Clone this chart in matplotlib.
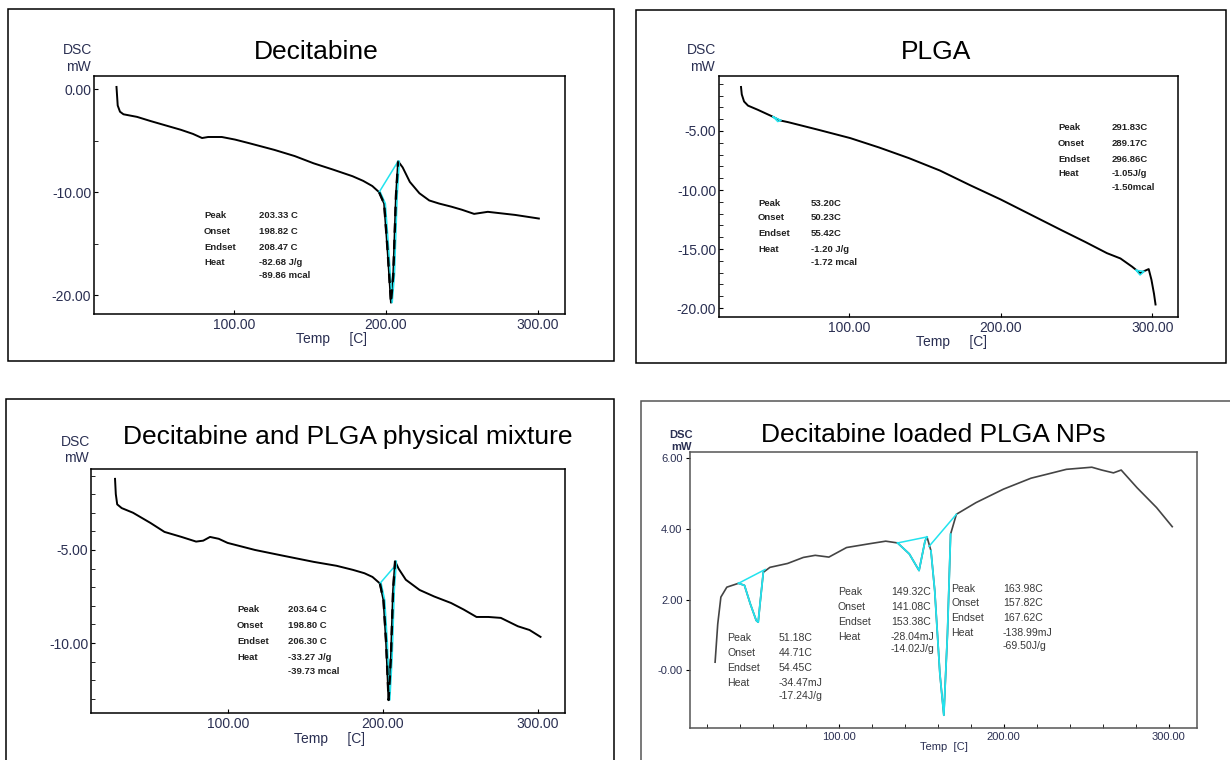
import matplotlib
matplotlib.use("Agg")
import matplotlib.pyplot as plt
from matplotlib.patches import Rectangle
from matplotlib.ticker import MultipleLocator, FixedLocator

plt.rcParams["font.family"] = ["Liberation Sans", "DejaVu Sans"]

# ---- data ----
dec_t = [22.7, 23.5, 25.0, 27.3, 36.2, 45, 54.4, 65, 73, 79, 83, 92, 100.7, 110,
         126.6, 140, 152.4, 165, 178, 185, 191, 195.5, 198.8, 201, 203.3, 204.8,
         206.6, 208, 211, 215.7, 222, 228.5, 235, 243, 250, 258, 267, 276, 285, 300.6]
dec_y = [0.2, -1.6, -2.2, -2.45, -2.7, -3.1, -3.5, -3.95, -4.35, -4.75, -4.65, -4.65,
         -4.9, -5.25, -5.9, -6.5, -7.2, -7.8, -8.45, -8.9, -9.4, -10.0, -11.1, -15.5,
         -20.7, -18.0, -10.3, -7.0, -7.6, -9.0, -10.1, -10.8, -11.1, -11.4, -11.7,
         -12.1, -11.9, -12.05, -12.2, -12.55]
dec_dip = (21, 28)
dec_base_t = [195.5, 208.0]
dec_base_y = [-10.0, -7.0]

plga_t = [29, 29.5, 31, 33.6, 40, 49.3, 54.5, 60, 80, 100.9, 120, 139.6, 160, 180,
          200, 220, 240, 255.7, 270, 278.9, 286.6, 289.5, 291.8, 294, 297.5, 299.3,
          301, 302]
plga_y = [-1.27, -1.9, -2.5, -2.85, -3.2, -3.75, -4.1, -4.25, -4.9, -5.6, -6.4,
          -7.3, -8.35, -9.6, -10.8, -12.1, -13.4, -14.4, -15.35, -15.8, -16.5,
          -16.8, -17.05, -16.9, -16.7, -17.6, -18.8, -19.7]
plga_cyan1_t = [50.2, 53.2, 55.4, 50.2]
plga_cyan1_y = [-3.8, -4.2, -4.1, -3.8]
plga_cyan2_t = [289.2, 291.8, 294.5, 289.2]
plga_cyan2_y = [-16.8, -17.2, -16.9, -16.8]

mix_t = [27.1, 27.6, 28.5, 31.4, 38.7, 50, 59, 70, 79.4, 84, 88.4, 94, 99.7, 117.4,
         135, 155.3, 170, 180.6, 188, 193.2, 198, 200.3, 202, 203.6, 205.1, 206.5,
         207.8, 210, 214.7, 223.6, 233, 243.9, 252, 260.3, 268, 276, 287, 294.5, 301.6]
mix_y = [-1.18, -2.0, -2.55, -2.75, -3.0, -3.55, -4.03, -4.3, -4.55, -4.5, -4.3,
         -4.4, -4.62, -5.0, -5.3, -5.64, -5.85, -6.07, -6.25, -6.45, -6.8, -7.7,
         -10.0, -13.06, -10.75, -7.15, -5.6, -6.0, -6.6, -7.15, -7.5, -7.85, -8.2,
         -8.6, -8.6, -8.65, -9.1, -9.3, -9.67]
mix_dip = (20, 27)
mix_base_t = [198.0, 207.3]
mix_base_y = [-6.8, -5.9]

np_t = [25.2, 26.8, 28.7, 32.3, 39.4, 43, 46.5, 50.1, 51.3, 52.4, 54.4, 58.4, 69.1,
        78.6, 85.8, 94.1, 104.8, 119, 128.5, 135.7, 142.8, 148.7, 152.3, 153.5,
        155.9, 158.2, 161.3, 163.7, 165.9, 167.8, 171.3, 183.2, 199.8, 216.5, 226,
        237.9, 253.3, 259.3, 266.4, 271.1, 280.7, 292.5, 302]
np_y = [0.23, 1.31, 2.07, 2.35, 2.46, 2.40, 1.88, 1.41, 1.36, 1.88, 2.77, 2.91,
        3.02, 3.19, 3.25, 3.2, 3.47, 3.58, 3.65, 3.6, 3.29, 2.82, 3.65, 3.77, 3.38,
        2.25, -0.09, -1.27, 1.03, 3.85, 4.41, 4.74, 5.12, 5.43, 5.54, 5.68, 5.74,
        5.66, 5.58, 5.66, 5.16, 4.6, 4.06]
np_dips = [(4, 11), (19, 24), (24, 30)]
np_base_t = [[39.4, 55.5], [135.7, 153.5], [154.7, 171.3]]
np_base_y = [[2.46, 2.85], [3.6, 3.77], [3.5, 4.41]]

x_ticks = [100, 200, 300]
x_labels = ["100.00", "200.00", "300.00"]

dec_labels = ["Peak", "Onset", "Endset", "Heat", ""]
dec_values = ["203.33 C", "198.82 C", "208.47 C", "-82.68 J/g", "-89.86 mcal"]
plga_values1 = ["53.20C", "50.23C", "55.42C", "-1.20 J/g", "-1.72 mcal"]
plga_values2 = ["291.83C", "289.17C", "296.86C", "-1.05J/g", "-1.50mcal"]
mix_values = ["203.64 C", "198.80 C", "206.30 C", "-33.27 J/g", "-39.73 mcal"]
np_values1 = ["51.18C", "44.71C", "54.45C", "-34.47mJ", "-17.24J/g"]
np_values2 = ["149.32C", "141.08C", "153.38C", "-28.04mJ", "-14.02J/g"]
np_values3 = ["163.98C", "157.82C", "167.62C", "-138.99mJ", "-69.50J/g"]

W, H = 1230, 760
fig = plt.figure(figsize=(W / 100, H / 100), dpi=100)
LAB = "#2a2f52"
CYAN = "#22e3ee"


def px_axes(l, t, r, b):
    return fig.add_axes([l / W, 1 - b / H, (r - l) / W, (b - t) / H])


def ftext(x, y, s, **kw):
    fig.text(x / W, 1 - y / H, s, **kw)


def box(l, t, r, b, color="black"):
    fig.add_artist(Rectangle((l / W, 1 - b / H), (r - l) / W, (b - t) / H,
                             transform=fig.transFigure, fill=False, lw=1.1,
                             edgecolor=color))


def table(lx, vx, ys, labels, values, **kw):
    for y, lab, val in zip(ys, labels, values):
        ftext(lx, y, lab, va="center", **kw)
        ftext(vx, y, val, va="center", **kw)


def style(ax, xlim, ylim, ymajor, yminor, yfmt, size=10, ydir="in"):
    ax.set_xlim(*xlim)
    ax.set_ylim(*ylim)
    ax.xaxis.set_major_locator(FixedLocator(x_ticks))
    ax.set_xticklabels(x_labels)
    ax.yaxis.set_major_locator(FixedLocator(ymajor))
    ax.set_yticklabels(yfmt)
    if yminor:
        ax.yaxis.set_minor_locator(MultipleLocator(yminor))
    ax.tick_params(axis="both", which="both", direction="in", length=3,
                   labelsize=size, labelcolor=LAB, pad=2, top=False, right=False)
    ax.tick_params(axis="y", which="both", direction=ydir)
    ax.tick_params(axis="x", pad=3)
    for sp in ax.spines.values():
        sp.set_linewidth(1.1)
    ax.patch.set_alpha(0)


def dsc(x, y1, y2, size=10, weight="normal"):
    ftext(x, y1, "DSC", ha="center", va="center", fontsize=size, color=LAB, weight=weight)
    ftext(x, y2, "mW", ha="center", va="center", fontsize=size, color=LAB, weight=weight)


# ---- panel 1: Decitabine ----
box(8, 9, 614, 361)
ax1 = px_axes(94, 76, 565, 314)
ax1.plot(dec_t, dec_y, color="black", lw=1.4)
a, b = dec_dip
ax1.plot([t + 0.8 for t in dec_t[a:b]], dec_y[a:b], color=CYAN, lw=1.1)
ax1.plot(dec_base_t, dec_base_y, color=CYAN, lw=1.1)
ax1.plot(dec_t[a:b], dec_y[a:b], color="black", lw=1.7, dashes=(4, 3))
style(ax1, (7.9, 317.8), (-21.8, 1.26), [0, -10, -20], 5,
      ["0.00", "-10.00", "-20.00"])
ftext(316, 52, "Decitabine", ha="center", va="center", fontsize=19)
dsc(78, 50, 67)
ftext(331, 339, "Temp     [C]", ha="center", va="center", fontsize=10, color=LAB)
table(204, 259, [216, 231, 247, 262, 275], dec_labels, dec_values,
      fontsize=6.8, weight="bold", color="#222222")

# ---- panel 2: PLGA ----
box(636, 10, 1226, 363)
ax2 = px_axes(719, 76, 1178, 317)
ax2.plot(plga_t, plga_y, color="black", lw=1.4)
ax2.plot(plga_cyan1_t, plga_cyan1_y, color=CYAN, lw=1.1)
ax2.plot(plga_cyan2_t, plga_cyan2_y, color=CYAN, lw=1.1)
style(ax2, (14.5, 316.8), (-20.76, -0.34), [-5, -10, -15, -20], 1,
      ["-5.00", "-10.00", "-15.00", "-20.00"])
ftext(936, 52, "PLGA", ha="center", va="center", fontsize=19)
dsc(702, 50, 67)
ftext(951, 342, "Temp     [C]", ha="center", va="center", fontsize=10, color=LAB)
table(758, 811, [203, 218, 234, 249, 262], dec_labels, plga_values1,
      fontsize=6.8, weight="bold", color="#222222")
table(1058, 1112, [128, 143, 159, 174, 188], dec_labels, plga_values2,
      fontsize=6.8, weight="bold", color="#222222")

# ---- panel 3: physical mixture ----
box(6, 399, 614, 780)
ax3 = px_axes(91, 469, 565, 713)
ax3.plot(mix_t, mix_y, color="black", lw=1.4)
a, b = mix_dip
ax3.plot([t + 0.8 for t in mix_t[a:b]], mix_y[a:b], color=CYAN, lw=1.1)
ax3.plot(mix_base_t, mix_base_y, color=CYAN, lw=1.1)
ax3.plot(mix_t[a:b], mix_y[a:b], color="black", lw=1.7, dashes=(4, 3))
style(ax3, (11.6, 317.4), (-13.76, -0.65), [-5, -10], 1, ["-5.00", "-10.00"])
ftext(348, 437, "Decitabine and PLGA physical mixture", ha="center", va="center",
      fontsize=19)
dsc(76, 442, 458)
ftext(330, 739, "Temp     [C]", ha="center", va="center", fontsize=10, color=LAB)
table(237, 288, [610, 625, 642, 657, 671], dec_labels, mix_values,
      fontsize=6.8, weight="bold", color="#222222")

# ---- panel 4: loaded NPs ----
box(641, 401, 1260, 790, color="#555555")
ax4 = px_axes(689.5, 452, 1197, 728)
ax4.plot(np_t, np_y, color="#444444", lw=1.2)
for (a, b), bt, by in zip(np_dips, np_base_t, np_base_y):
    ax4.plot(np_t[a:b], np_y[a:b], color=CYAN, lw=1.3)
    ax4.plot(bt, by, color=CYAN, lw=1.1)
style(ax4, (9.7, 317), (-1.63, 6.17), [6, 4, 2, 0], None,
      ["6.00", "4.00", "2.00", "-0.00"], size=8, ydir="out")
ax4.xaxis.set_minor_locator(MultipleLocator(20))
for sp in ax4.spines.values():
    sp.set_color("#555555")
ftext(933, 435, "Decitabine loaded PLGA NPs", ha="center", va="center", fontsize=19)
dsc(681, 435, 447, size=8, weight="bold")
ftext(944, 747, "Temp  [C]", ha="center", va="center", fontsize=8, color=LAB)
table(727, 779, [638, 653, 668, 683, 696], dec_labels, np_values1,
      fontsize=7.6, color="#3a3a3a")
table(838, 891, [592, 607, 622, 637, 649], dec_labels, np_values2,
      fontsize=7.6, color="#3a3a3a")
table(951, 1003, [589, 603, 618, 633, 646], dec_labels, np_values3,
      fontsize=7.6, color="#3a3a3a")

fig.savefig("out.png", dpi=100)
